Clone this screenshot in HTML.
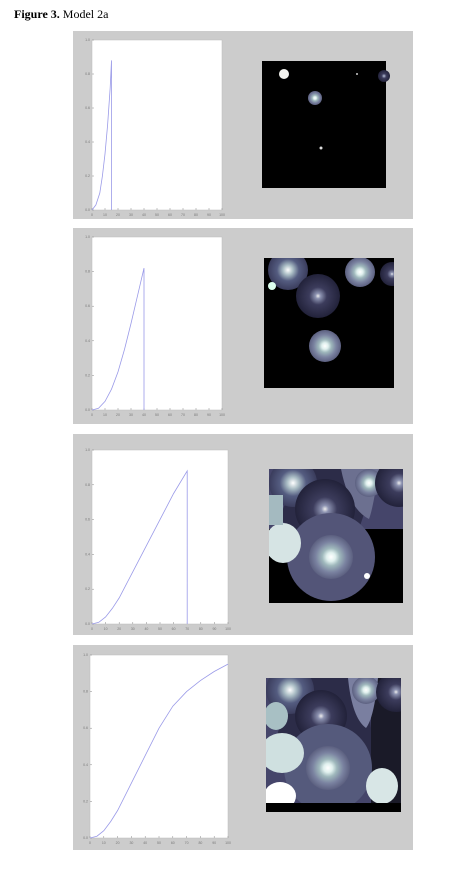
<!DOCTYPE html>
<html><head><meta charset="utf-8"><style>
body{margin:0;background:#fff;width:468px;height:870px;overflow:hidden;font-family:"Liberation Serif",serif}
svg{position:absolute;left:0;top:0}
</style></head><body>
<svg id="s" width="468" height="870">
<defs>
<radialGradient id="g1"><stop offset="0" stop-color="#fff"/><stop offset=".2" stop-color="#e0f0ee"/><stop offset=".4" stop-color="#9fb8bc"/><stop offset=".7" stop-color="#7a82a0"/><stop offset="1" stop-color="#5c6080"/></radialGradient>
<radialGradient id="g2"><stop offset="0" stop-color="#fff"/><stop offset=".25" stop-color="#a9bcc4"/><stop offset=".55" stop-color="#545c80"/><stop offset="1" stop-color="#3a3c5c"/></radialGradient>
<radialGradient id="g3"><stop offset="0" stop-color="#eee"/><stop offset=".12" stop-color="#8c92b0"/><stop offset=".4" stop-color="#3c3c5c"/><stop offset="1" stop-color="#22223a"/></radialGradient>
</defs>
<text x="14" y="18" font-size="12"><tspan font-weight="bold">Figure 3.</tspan> Model 2a</text>
<g id="panels"></g>
<g>
<rect x="262" y="61" width="124" height="127" fill="#000"/>
<circle cx="284" cy="74" r="5" fill="#f4f4f0"/>
<circle cx="315" cy="98" r="7" fill="url(#g1)"/>
<circle cx="384" cy="76" r="6" fill="url(#g3)"/>
<circle cx="357" cy="74" r="1" fill="#ccc"/>
<circle cx="321" cy="148" r="1.5" fill="#ddd"/>
</g>
<g>
<rect x="264" y="258" width="130" height="130" fill="#000"/>
<svg x="264" y="258" width="130" height="130">
<circle cx="24" cy="12" r="20" fill="url(#g2)"/>
<circle cx="54" cy="38" r="22" fill="url(#g3)"/>
<circle cx="96" cy="14" r="15" fill="url(#g1)"/>
<circle cx="128" cy="16" r="12" fill="url(#g3)"/>
<circle cx="61" cy="88" r="16" fill="url(#g1)"/>
<circle cx="8" cy="28" r="4" fill="#dfe"/>
</svg></g>
<g>
<rect x="269" y="469" width="134" height="134" fill="#000"/>
<svg x="269" y="469" width="134" height="134">
<rect x="0" y="0" width="134" height="60" fill="#45456a"/>
<polygon points="30,0 110,0 90,60 70,80 40,70 10,50" fill="#2c2c48"/>
<circle cx="24" cy="14" r="24" fill="url(#g2)"/>
<path d="M72,0 L110,0 Q104,40 100,50 Q80,40 72,0Z" fill="#6c7090"/>
<circle cx="100" cy="14" r="14" fill="url(#g1)"/>
<circle cx="130" cy="14" r="24" fill="url(#g3)"/>
<circle cx="56" cy="40" r="30" fill="url(#g3)"/>
<circle cx="62" cy="88" r="44" fill="#535578"/>
<circle cx="62" cy="88" r="22" fill="url(#g1)"/>
<ellipse cx="14" cy="74" rx="18" ry="20" fill="#d6e4e4"/>
<rect x="0" y="26" width="14" height="30" fill="#a4bac0"/>
<circle cx="98" cy="107" r="3" fill="#fff"/>
</svg></g>
<g>
<rect x="266" y="678" width="135" height="134" fill="#000"/>
<svg x="266" y="678" width="135" height="134">
<rect x="0" y="0" width="135" height="134" fill="#45456a"/>
<polygon points="30,0 100,0 105,50 110,80 40,75 10,60" fill="#2c2c48"/>
<rect x="105" y="0" width="30" height="134" fill="#1a1a28"/>
<circle cx="24" cy="12" r="24" fill="url(#g2)"/>
<path d="M82,0 L112,0 Q108,40 100,50 Q86,40 82,0Z" fill="#7a7fa0"/>
<circle cx="100" cy="12" r="14" fill="url(#g1)"/>
<circle cx="130" cy="14" r="20" fill="url(#g3)"/>
<circle cx="55" cy="38" r="26" fill="url(#g3)"/>
<circle cx="62" cy="90" r="44" fill="#555a7c"/>
<circle cx="62" cy="90" r="22" fill="url(#g1)"/>
<ellipse cx="16" cy="75" rx="22" ry="20" fill="#cfe0e0"/>
<ellipse cx="10" cy="38" rx="12" ry="14" fill="#a8c0c4"/>
<ellipse cx="14" cy="118" rx="16" ry="14" fill="#fff"/>
<ellipse cx="116" cy="108" rx="16" ry="18" fill="#d8e6e6"/>
<rect x="0" y="125" width="135" height="9" fill="#000"/>
</svg></g>
</svg>
<script>
const xTicks=[0,10,20,30,40,50,60,70,80,90,100];
const yTicks=[0,0.2,0.4,0.6,0.8,1];
const x1=[0,3,6,8,10,12,14,15,15], y1=[0,0.03,0.1,0.2,0.33,0.5,0.72,0.88,0];
const x2=[0,5,10,15,20,25,30,35,40,40], y2=[0,0.01,0.05,0.12,0.22,0.35,0.5,0.66,0.82,0];
const x3=[0,5,10,15,20,30,40,50,60,70,70], y3=[0,0.01,0.04,0.09,0.15,0.3,0.45,0.6,0.75,0.88,0];
const x4=[0,5,10,15,20,30,40,50,60,70,80,90,100], y4=[0,0.01,0.04,0.09,0.15,0.3,0.45,0.6,0.72,0.8,0.86,0.91,0.95];
const panels=[
 {bg:[73,31,340,188],p:[92,40,130,170],xs:x1,ys:y1},
 {bg:[73,228,340,196],p:[92,237,130,173],xs:x2,ys:y2},
 {bg:[73,434,340,201],p:[92,450,136,174],xs:x3,ys:y3},
 {bg:[73,645,340,205],p:[90,655,138,183],xs:x4,ys:y4}];
const NS='http://www.w3.org/2000/svg';
const G=document.getElementById('panels');
function mk(t,a,par){const e=document.createElementNS(NS,t);for(const k in a)e.setAttribute(k,a[k]);par.appendChild(e);return e;}
panels.forEach((P,i)=>{
 const g=mk('g',{},G);
 
 
 const bg=mk('rect',{x:P.bg[0],y:P.bg[1],width:P.bg[2],height:P.bg[3],fill:'#cccccc'},g);
 
 
 const [px,py,pw,ph]=P.p;
 const pr=mk('rect',{x:px,y:py,width:pw,height:ph,fill:'#fff',stroke:'#bbb','stroke-width':0.5},g);
 
 
 const sx=v=>px+v/100*pw, sy=v=>py+ph-v*ph;
 xTicks.forEach(t=>{
  mk('line',{x1:sx(t),x2:sx(t),y1:py+ph,y2:py+ph-2,stroke:'#888','stroke-width':0.5},g);
  const tx=mk('text',{x:sx(t),y:py+ph+6,'font-size':3.5,fill:'#777','text-anchor':'middle','font-family':'Liberation Sans'},g);
  tx.textContent=t;
  
  
 });
 yTicks.forEach(t=>{
  mk('line',{x1:px,x2:px+2,y1:sy(t),y2:sy(t),stroke:'#888','stroke-width':0.5},g);
  const tx=mk('text',{x:px-2,y:sy(t)+1,'font-size':3.5,fill:'#777','text-anchor':'end','font-family':'Liberation Sans'},g);
  tx.textContent=t.toFixed(1);
  
  
 });
 const d=P.xs.map((x,j)=>(j?'L':'M')+sx(x).toFixed(1)+','+sy(P.ys[j]).toFixed(1)).join(' ');
 const ln=mk('path',{d:d,fill:'none',stroke:'#9a9ae8','stroke-width':0.8},g);
 
 
});
</script>
</body></html>
